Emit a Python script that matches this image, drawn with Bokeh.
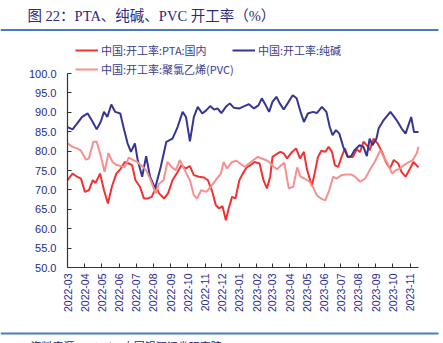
import pandas as pd
from bokeh.plotting import figure
from bokeh.models import (Label, Legend, LegendItem, FixedTicker, Range1d,
                          BoxAnnotation, DatetimeTickFormatter, CustomJSTickFormatter)
from bokeh.embed import file_html
from bokeh.resources import INLINE

title_text = "图 22：PTA、纯碱、PVC 开工率（%）"
source_text = "资料来源：Wind，中国银河证券研究院"
series_names = ["中国:开工率:PTA:国内", "中国:开工率:纯碱", "中国:开工率:聚氯乙烯(PVC)"]

tick_labels = ["2022-03", "2022-04", "2022-05", "2022-06", "2022-07", "2022-08",
               "2022-09", "2022-10", "2022-11", "2022-12", "2023-01", "2023-02",
               "2023-03", "2023-04", "2023-05", "2023-06", "2023-07", "2023-08",
               "2023-09", "2023-10", "2023-11"]
y_ticks = [50, 55, 60, 65, 70, 75, 80, 85, 90, 95, 100]

pta_dates = ["2022-03-01", "2022-03-10", "2022-03-18", "2022-03-25", "2022-04-01", "2022-04-08",
             "2022-04-15", "2022-04-20", "2022-04-28", "2022-05-05", "2022-05-12", "2022-05-19",
             "2022-05-27", "2022-06-04", "2022-06-11", "2022-06-18", "2022-06-24", "2022-06-30",
             "2022-07-08", "2022-07-15", "2022-07-22", "2022-07-29", "2022-08-06", "2022-08-11",
             "2022-08-20", "2022-08-27", "2022-09-04", "2022-09-13", "2022-09-20", "2022-09-27",
             "2022-10-05", "2022-10-12", "2022-10-21", "2022-10-30", "2022-11-06", "2022-11-13",
             "2022-11-20", "2022-11-26", "2022-12-02", "2022-12-08", "2022-12-13", "2022-12-19",
             "2022-12-25", "2023-01-01", "2023-01-07", "2023-01-14", "2023-01-21", "2023-01-28",
             "2023-02-06", "2023-02-13", "2023-02-19", "2023-02-25", "2023-03-01", "2023-03-08",
             "2023-03-15", "2023-03-21", "2023-03-27", "2023-04-05", "2023-04-12", "2023-04-19",
             "2023-04-26", "2023-05-01", "2023-05-10", "2023-05-15", "2023-05-21", "2023-05-27",
             "2023-06-03", "2023-06-09", "2023-06-15", "2023-06-20", "2023-06-26", "2023-07-02",
             "2023-07-08", "2023-07-13", "2023-07-22", "2023-07-29", "2023-08-04", "2023-08-10",
             "2023-08-16", "2023-08-21", "2023-08-28", "2023-09-04", "2023-09-12", "2023-09-19",
             "2023-09-26", "2023-10-03", "2023-10-11", "2023-10-17", "2023-10-24", "2023-11-01",
             "2023-11-07", "2023-11-16"]
pta_values = [72.5, 74.2, 73.4, 72.9, 69.5, 69.9, 72.5, 71.8, 74.2, 69.9, 66.5, 70.8,
              74.2, 75.5, 77.2, 76.8, 76.4, 72.5, 70.8, 67.8, 67.8, 68.2, 70.8, 69.1,
              67.8, 69.1, 72.5, 74.6, 76.4, 75.5, 76.1, 73.8, 73.4, 73.2, 72.5, 69.9,
              66.1, 65.2, 65.8, 62.2, 65.2, 68.2, 67.8, 72.5, 74.2, 75.8, 76.4, 77.2,
              76.8, 72.5, 70.4, 73.4, 78.5, 79.2, 79.8, 79.4, 78.1, 79.8, 80.7, 78.1,
              79.8, 75.5, 71.0, 74.2, 78.5, 80.1, 79.8, 81.1, 79.8, 76.4, 75.9, 78.5,
              80.7, 78.5, 78.5, 80.4, 79.8, 82.4, 81.5, 80.2, 83.2, 82.0, 79.8, 77.2,
              75.5, 77.7, 76.8, 74.6, 73.4, 75.5, 77.2, 75.8]

soda_dates = ["2022-03-01", "2022-03-10", "2022-03-18", "2022-03-27", "2022-04-06", "2022-04-15",
              "2022-04-22", "2022-04-29", "2022-05-05", "2022-05-11", "2022-05-18", "2022-05-25",
              "2022-06-03", "2022-06-10", "2022-06-16", "2022-06-22", "2022-06-29", "2022-07-04",
              "2022-07-12", "2022-07-19", "2022-07-26", "2022-08-04", "2022-08-14", "2022-08-24",
              "2022-09-04", "2022-09-13", "2022-09-22", "2022-09-28", "2022-10-05", "2022-10-12",
              "2022-10-19", "2022-10-27", "2022-11-03", "2022-11-10", "2022-11-17", "2022-11-23",
              "2022-11-30", "2022-12-08", "2022-12-15", "2022-12-22", "2023-01-01", "2023-01-10",
              "2023-01-18", "2023-01-27", "2023-02-04", "2023-02-10", "2023-02-16", "2023-02-23",
              "2023-03-01", "2023-03-08", "2023-03-14", "2023-03-21", "2023-03-28", "2023-04-06",
              "2023-04-13", "2023-04-20", "2023-04-26", "2023-05-03", "2023-05-12", "2023-05-19",
              "2023-05-28", "2023-06-05", "2023-06-11", "2023-06-16", "2023-06-22", "2023-06-28",
              "2023-07-05", "2023-07-13", "2023-07-19", "2023-07-25", "2023-08-03", "2023-08-10",
              "2023-08-16", "2023-08-21", "2023-08-26", "2023-09-02", "2023-09-06", "2023-09-15",
              "2023-09-27", "2023-10-08", "2023-10-17", "2023-10-24", "2023-11-03", "2023-11-08",
              "2023-11-16"]
soda_values = [86.2, 85.6, 87.1, 88.8, 89.7, 87.5, 85.6, 87.5, 90.1, 88.8, 92.0, 90.1,
               89.7, 85.4, 82.0, 79.8, 82.0, 77.7, 73.4, 78.7, 73.4, 70.4, 75.9, 82.4,
               83.2, 86.2, 90.1, 88.8, 82.5, 88.8, 91.4, 89.7, 90.5, 91.6, 90.7, 91.0,
               89.8, 91.4, 92.3, 91.2, 91.0, 91.6, 92.1, 91.0, 91.8, 93.6, 92.1, 90.1,
               92.7, 94.0, 92.3, 90.7, 92.3, 94.4, 93.6, 90.1, 87.5, 89.7, 90.1, 89.8,
               91.4, 90.1, 86.2, 84.1, 85.4, 84.5, 81.1, 78.5, 78.7, 80.2, 81.5, 81.1,
               78.7, 83.2, 81.5, 83.2, 85.8, 88.0, 90.1, 88.0, 85.8, 84.5, 88.8, 84.9,
               84.9]

pvc_dates = ["2022-03-01", "2022-03-10", "2022-03-18", "2022-03-25", "2022-04-03", "2022-04-08",
             "2022-04-16", "2022-04-22", "2022-04-29", "2022-05-06", "2022-05-13", "2022-05-20",
             "2022-05-28", "2022-06-05", "2022-06-11", "2022-06-18", "2022-06-26", "2022-07-03",
             "2022-07-12", "2022-07-19", "2022-07-26", "2022-08-05", "2022-08-11", "2022-08-19",
             "2022-08-26", "2022-09-03", "2022-09-10", "2022-09-17", "2022-09-25", "2022-10-05",
             "2022-10-12", "2022-10-18", "2022-10-25", "2022-11-03", "2022-11-11", "2022-11-20",
             "2022-11-29", "2022-12-04", "2022-12-10", "2022-12-19", "2022-12-27", "2023-01-04",
             "2023-01-11", "2023-01-18", "2023-01-26", "2023-02-03", "2023-02-10", "2023-02-17",
             "2023-02-23", "2023-03-02", "2023-03-09", "2023-03-17", "2023-03-22", "2023-03-30",
             "2023-04-07", "2023-04-14", "2023-04-20", "2023-04-26", "2023-05-06", "2023-05-12",
             "2023-05-19", "2023-05-26", "2023-06-03", "2023-06-10", "2023-06-17", "2023-06-23",
             "2023-07-02", "2023-07-10", "2023-07-19", "2023-07-26", "2023-08-04", "2023-08-13",
             "2023-08-21", "2023-08-30", "2023-09-09", "2023-09-15", "2023-09-22", "2023-09-30",
             "2023-10-07", "2023-10-14", "2023-10-21", "2023-10-28", "2023-11-06", "2023-11-13",
             "2023-11-16"]
pvc_values = [82.0, 81.1, 80.7, 80.1, 77.8, 78.1, 82.4, 82.4, 78.9, 74.6, 79.5, 77.2,
              76.4, 76.1, 75.9, 78.3, 77.7, 77.2, 76.1, 75.1, 72.9, 69.1, 71.6, 72.5,
              77.2, 75.8, 75.1, 77.7, 75.3, 72.5, 68.6, 67.8, 69.9, 69.5, 70.8, 72.5,
              74.2, 77.2, 75.5, 77.2, 77.5, 76.6, 75.9, 76.8, 77.7, 78.5, 78.1, 77.7,
              77.2, 76.1, 75.3, 76.4, 77.0, 70.4, 70.8, 75.8, 73.4, 73.0, 72.1, 70.8,
              68.6, 67.8, 67.3, 69.9, 73.4, 72.9, 73.8, 74.0, 74.0, 73.4, 72.1, 72.9,
              75.1, 77.2, 80.2, 78.5, 76.8, 74.2, 75.1, 75.5, 76.4, 77.0, 77.7, 79.5,
              81.1]

# ---- layout constants (canvas pixels) ----
W, H = 443, 343
PL, PR, PT, PB = 67, 418, 73, 267   # plot-area left/right/top/bottom on canvas
Y_LO, Y_HI = 50, 100

TITLE_COLOR = "#2a2a7e"
NAVY_TEXT = "#1f2a8a"
LEGEND_TEXT = "#3a3d8c"
RED = "#f23232"
NAVY = "#353594"
PINK = "#f69090"
RULE = "#4a7cc6"
AXIS = "#333333"

pta_x = pd.to_datetime(pta_dates)
soda_x = pd.to_datetime(soda_dates)
pvc_x = pd.to_datetime(pvc_dates)
tick_dt = pd.to_datetime(tick_labels)

# The frame fills the whole canvas so that header/legend/footer are not clipped;
# ranges are widened so the data area sits at PL..PR / PT..PB.
x0, x1 = pta_x[0], pta_x[-1]
span = x1 - x0
px_per = (PR - PL)
xr = Range1d(x0 - span * (PL / px_per), x1 + span * ((W - PR) / px_per))
upp = (Y_HI - Y_LO) / (PB - PT)
yr = Range1d(Y_LO - (H - PB) * upp, Y_HI + PT * upp)


def cy(y):  # canvas y (from top) -> screen y from bottom
    return H - y


p = figure(width=W, height=H, x_axis_type="datetime", output_backend="svg",
           toolbar_location=None, x_range=xr, y_range=yr,
           min_border=0, min_border_left=0, min_border_right=0,
           min_border_top=0, min_border_bottom=0)
p.outline_line_color = None
p.background_fill_color = "white"
p.border_fill_color = "white"
p.xgrid.visible = False
p.ygrid.visible = False

r_pta = p.line(pta_x, pta_values, line_color=RED, line_width=2)
r_soda = p.line(soda_x, soda_values, line_color=NAVY, line_width=2)
r_pvc = p.line(pvc_x, pvc_values, line_color=PINK, line_width=2)

# axes, pinned to the data area
xa = p.xaxis[0]
xa.ticker = FixedTicker(ticks=[t.value // 10**6 for t in tick_dt])
xa.formatter = DatetimeTickFormatter(days="%Y-%m", months="%Y-%m", years="%Y-%m",
                                     strip_leading_zeros=False)
xa.major_label_orientation = 1.5707963
xa.fixed_location = Y_LO
xa.bounds = (x0, x1)
ya = p.yaxis[0]
ya.ticker = FixedTicker(ticks=y_ticks)
ya.formatter = CustomJSTickFormatter(code="return tick.toFixed(1)")
ya.fixed_location = x0.value / 10**6
ya.bounds = (Y_LO, Y_HI)
for ax in (xa, ya):
    ax.minor_tick_line_color = None
    ax.axis_line_color = AXIS
    ax.axis_line_width = 1.2
    ax.major_tick_line_color = AXIS
    ax.major_tick_in = 4
    ax.major_tick_out = 0
    ax.major_label_text_color = NAVY_TEXT
    ax.major_label_text_font = "Liberation Sans"
    ax.major_label_text_font_size = "11px"
xa.major_label_standoff = 6
xa.major_label_text_font_size = "10.5px"
ya.major_label_standoff = 11


def mk_legend(items, x, y_bottom):
    return Legend(items=items, location=(x, cy(y_bottom)),
                  orientation="vertical", padding=0, margin=0, spacing=3,
                  glyph_width=23, glyph_height=16, label_height=16,
                  label_standoff=3, border_line_color=None,
                  background_fill_alpha=0.0,
                  label_text_font="Noto Sans CJK SC", label_text_font_size="11px",
                  label_text_color=LEGEND_TEXT)


lg1 = mk_legend([LegendItem(label=series_names[0], renderers=[r_pta]),
                 LegendItem(label=series_names[2], renderers=[r_pvc])], 75, 77)
lg2 = mk_legend([LegendItem(label=series_names[1], renderers=[r_soda])], 232, 58)
p.add_layout(lg1, "center")
p.add_layout(lg2, "center")

p.add_layout(Label(x=27, y=cy(15), x_units="screen", y_units="screen",
                   text=title_text, text_font="Liberation Serif, Noto Sans CJK SC",
                   text_font_size="14.5px",
                   text_color=TITLE_COLOR, text_baseline="middle"))
for top in (28.5, 332):
    p.add_layout(BoxAnnotation(left=0, right=438, top=cy(top), bottom=cy(top + 2),
                               left_units="screen", right_units="screen",
                               top_units="screen", bottom_units="screen",
                               fill_color=RULE, fill_alpha=1.0, line_color=None))
p.add_layout(Label(x=30, y=cy(337), x_units="screen", y_units="screen",
                   text=source_text, text_font="Noto Sans CJK SC", text_font_size="11px",
                   text_color=NAVY_TEXT, text_baseline="top"))

open("out.html", "w").write(file_html(p, INLINE))
